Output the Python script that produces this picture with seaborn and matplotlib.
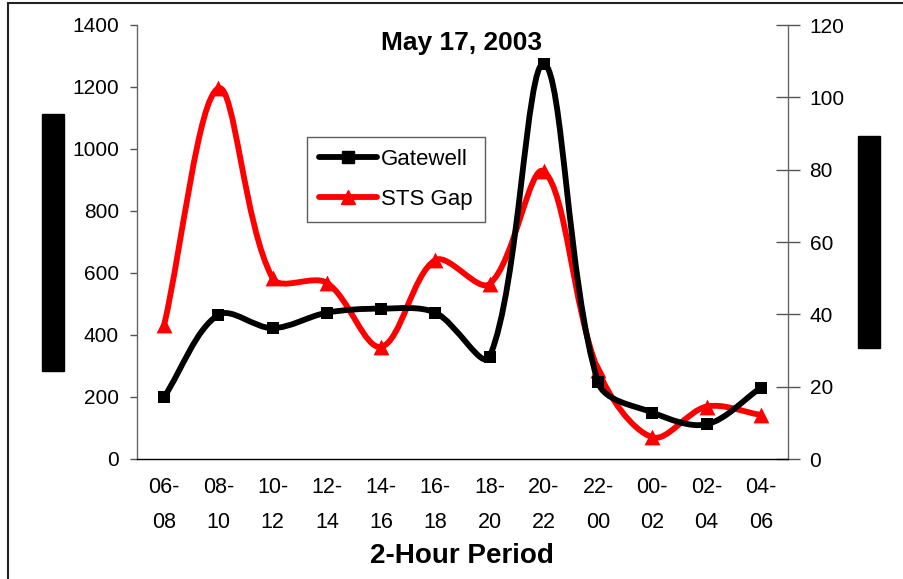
import matplotlib
matplotlib.use("Agg")
import matplotlib.pyplot as plt
import seaborn as sns
import numpy as np
import pandas as pd
from matplotlib.path import Path
from matplotlib.patches import PathPatch, Rectangle
from matplotlib.lines import Line2D

# Data
periods = ["06-\n08", "08-\n10", "10-\n12", "12-\n14", "14-\n16", "16-\n18",
           "18-\n20", "20-\n22", "22-\n00", "00-\n02", "02-\n04", "04-\n06"]
gatewell = [200, 465, 422, 472, 485, 472, 330, 1275, 247, 150, 112, 230]
sts_gap = [37, 102.5, 50, 48.7, 31, 55, 48.4, 79.5, 24.5, 6, 14.5, 12.2]

sns.set_theme(style="white")
plt.rcParams["font.family"] = ["Liberation Sans", "DejaVu Sans"]
for key in ("text.color", "axes.labelcolor", "xtick.color", "ytick.color"):
    plt.rcParams[key] = "black"


def smooth_path(ax, xs, ys):
    """Excel-like smoothed line: Bezier segments with control points
    scaled by the neighbouring chord lengths (computed in screen space)."""
    pts = ax.transData.transform(np.column_stack([xs, ys]).astype(float))
    n = len(pts)
    d = np.hypot(*np.diff(pts, axis=0).T)
    verts = [pts[0]]
    codes = [Path.MOVETO]

    def tangent(i):
        a = pts[max(i - 1, 0)]
        b = pts[min(i + 1, n - 1)]
        d_prev = d[i - 1] if i > 0 else 0.0
        d_next = d[i] if i < n - 1 else 0.0
        return (b - a) / (d_prev + d_next)

    for i in range(n - 1):
        c1 = pts[i] + tangent(i) * d[i] / 3.0
        c2 = pts[i + 1] - tangent(i + 1) * d[i] / 3.0
        verts += [c1, c2, pts[i + 1]]
        codes += [Path.CURVE4] * 3
    verts = ax.transData.inverted().transform(np.array(verts))
    return Path(verts, codes)


df = pd.DataFrame({"x": np.arange(len(periods)), "gatewell": gatewell, "sts": sts_gap})

fig = plt.figure(figsize=(9.04, 5.79), dpi=100)
ax = fig.add_axes([137 / 904, 1 - 459 / 579, 651 / 904, 434 / 579])
ax2 = ax.twinx()

ax.set_xlim(-0.5, len(periods) - 0.5)
ax.set_ylim(0, 1400)
ax2.set_ylim(0, 120)

lw = 4.2
ax.add_patch(PathPatch(smooth_path(ax, df["x"], df["gatewell"]), fill=False,
                       edgecolor="black", lw=lw, capstyle="round", joinstyle="round"))
sns.scatterplot(data=df, x="x", y="gatewell", marker="s", s=85, color="black",
                edgecolor="black", linewidth=0, ax=ax, zorder=3)

ax2.add_patch(PathPatch(smooth_path(ax2, df["x"], df["sts"]), fill=False,
                        edgecolor="#ff0000", lw=lw, capstyle="round", joinstyle="round"))
sns.scatterplot(data=df, x="x", y="sts", marker="^", s=130, color="#ff0000",
                edgecolor="#ff0000", linewidth=0, ax=ax2, zorder=3)

ax.set_xlim(-0.5, len(periods) - 0.5)
ax.set_ylim(0, 1400)
ax2.set_ylim(0, 120)
ax.set_yticks(range(0, 1401, 200))
ax2.set_yticks(range(0, 121, 20))
ax.set_xticks(df["x"])
ax.set_xticklabels(periods, fontsize=15.5, linespacing=1.85)
ax.set_xticks(np.arange(-0.5, len(periods)), minor=True)
ax.tick_params(axis="x", which="major", length=0, pad=13, labelsize=15.5)
ax.tick_params(axis="x", which="minor", length=6, width=1, color="black", direction="out")
ax.tick_params(axis="y", length=5, width=1, color="#555555", direction="out", pad=8, labelsize=15)
ax2.tick_params(axis="y", length=17, width=1, color="#555555", direction="inout", pad=7, labelsize=15)
ax.set_xlabel("")
ax.set_ylabel("")
ax2.set_xlabel("")
ax2.set_ylabel("")

for a in (ax, ax2):
    a.spines["top"].set_visible(False)
    a.spines["left"].set_color("#666666")
    a.spines["right"].set_color("#666666")
    a.spines["bottom"].set_color("black")
    for s in a.spines.values():
        s.set_linewidth(1)
ax.spines["right"].set_visible(False)
ax2.spines["left"].set_visible(False)
ax2.spines["bottom"].set_visible(False)

ax.text(0.499, 0.958, "May 17, 2003", transform=ax.transAxes, ha="center", va="center",
        fontsize=19, fontweight="bold")
fig.text(462 / 904, 1 - 556 / 579, "2-Hour Period", ha="center", va="center",
         fontsize=20, fontweight="bold")

handles = [
    Line2D([], [], color="black", lw=lw, marker="s", markersize=8),
    Line2D([], [], color="#ff0000", lw=lw, marker="^", markersize=10),
]
leg = ax.legend(handles, ["Gatewell", "STS Gap"], loc="upper left",
                bbox_to_anchor=(0.261, 0.742), fontsize=16, frameon=True,
                fancybox=False, shadow=False, handlelength=2.6, handletextpad=0.2,
                borderpad=0.55, labelspacing=0.85, borderaxespad=0)
leg.get_frame().set_edgecolor("#333333")
leg.get_frame().set_linewidth(1)
leg.set_zorder(10)
# legend above the twin axis curves
ax.set_zorder(ax2.get_zorder() + 1)
ax.patch.set_visible(False)

# chart-area border and the blacked-out axis titles
fig.add_artist(Rectangle((8 / 904, -0.05), 1.1, 1 - 3 / 579 + 0.05, transform=fig.transFigure,
                         fill=False, edgecolor="#222222", lw=1.5))
fig.add_artist(Rectangle((42 / 904, 1 - 371 / 579), 22 / 904, 257 / 579,
                         transform=fig.transFigure, color="black"))
fig.add_artist(Rectangle((858 / 904, 1 - 348 / 579), 22 / 904, 212 / 579,
                         transform=fig.transFigure, color="black"))

fig.savefig("out.png", dpi=100, facecolor="white")
